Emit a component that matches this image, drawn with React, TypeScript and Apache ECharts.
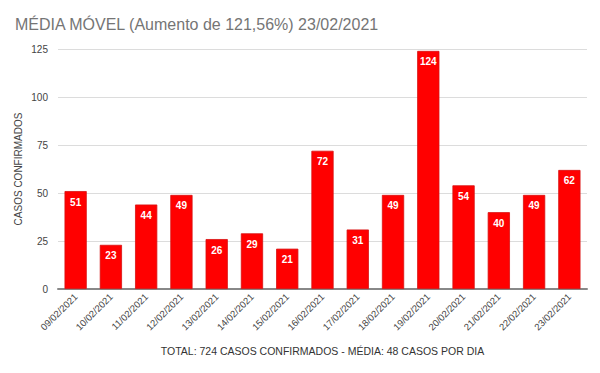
import React, { useEffect, useRef } from "react";
import * as echarts from "echarts";

const categories = ["09/02/2021","10/02/2021","11/02/2021","12/02/2021","13/02/2021","14/02/2021","15/02/2021","16/02/2021","17/02/2021","18/02/2021","19/02/2021","20/02/2021","21/02/2021","22/02/2021","23/02/2021"];
const values = [51, 23, 44, 49, 26, 29, 21, 72, 31, 49, 124, 54, 40, 49, 62];
const title = "MÉDIA MÓVEL (Aumento de 121,56%) 23/02/2021";
const yName = "CASOS CONFIRMADOS";
const xName = "TOTAL: 724 CASOS CONFIRMADOS - MÉDIA: 48 CASOS POR DIA";

export default function App() {
  const ref = useRef<HTMLDivElement>(null);
  useEffect(() => {
    const chart = echarts.init(ref.current!, null, { renderer: "svg" });
    chart.setOption({
      animation: false,
      backgroundColor: "#ffffff",
      title: {
        text: title,
        left: 10,
        top: 11,
        textStyle: { fontFamily: "Arial, Liberation Sans", fontSize: 16, fontWeight: "normal", color: "#757575" },
      },
      grid: { left: 58, right: 13, top: 49, bottom: 84 },
      xAxis: {
        type: "category",
        data: categories,
        name: xName,
        nameLocation: "middle",
        nameGap: 56,
        nameMoveOverlap: false,
        nameTextStyle: { fontFamily: "Arial, Liberation Sans", fontSize: 10.5, color: "#333" },
        axisTick: { show: false },
        axisLine: { lineStyle: { color: "#888", width: 2 } },
        axisLabel: { rotate: 45, fontFamily: "Arial, Liberation Sans", fontSize: 9.5, color: "#444", margin: 6, interval: 0 },
      },
      yAxis: {
        type: "value",
        min: 0,
        max: 125,
        interval: 25,
        name: yName,
        nameLocation: "middle",
        nameGap: 35,
        nameMoveOverlap: false,
        nameTextStyle: { fontFamily: "Arial, Liberation Sans", fontSize: 10, color: "#444" },
        axisLabel: { fontFamily: "Arial, Liberation Sans", fontSize: 10, color: "#444", margin: 10 },
        splitLine: { lineStyle: { color: "#dcdcdc", width: 1 } },
        axisLine: { show: false },
        axisTick: { show: false },
      },
      series: [
        {
          type: "bar",
          data: values,
          barCategoryGap: "37%",
          itemStyle: { color: "#ff0000", borderColor: "#d81010", borderWidth: 0.8 },
          label: {
            show: true,
            position: "insideTop",
            distance: 6,
            color: "#ffffff",
            fontWeight: "bold",
            fontFamily: "Arial, Liberation Sans",
            fontSize: 10,
          },
        },
      ],
    });
    return () => chart.dispose();
  }, []);
  return <div ref={ref} style={{ width: 600, height: 373, margin: -8 }} />;
}
